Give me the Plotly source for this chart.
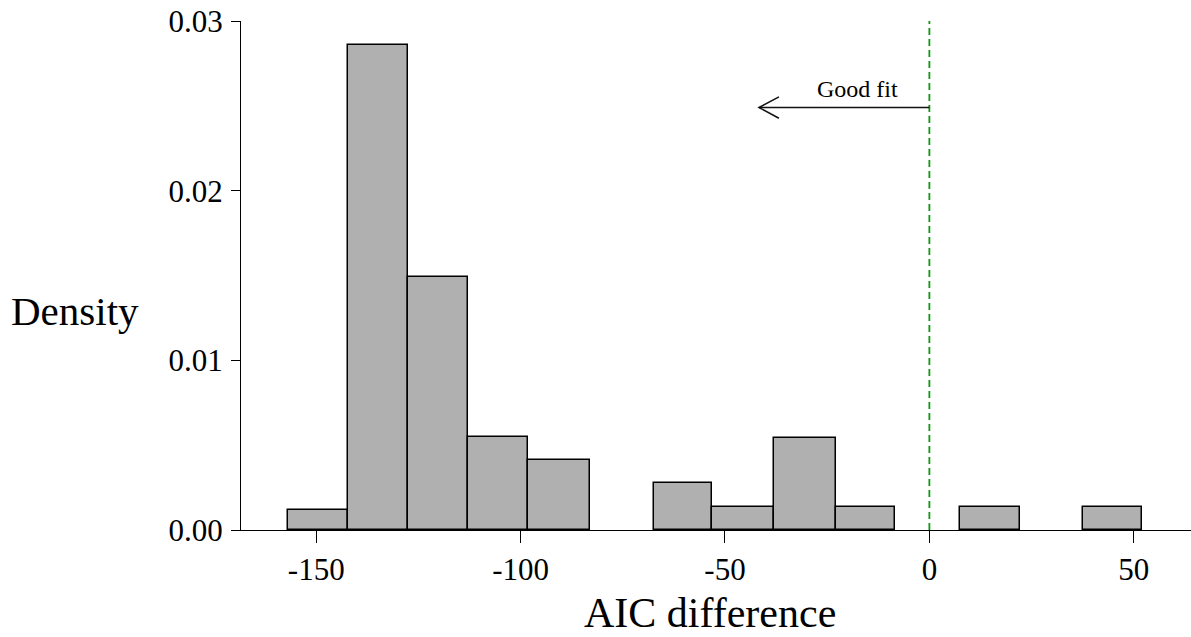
import plotly.graph_objects as go

# Histogram bins (AIC difference) and densities
bin_left = [-157.0, -142.3, -127.6, -112.8, -98.3, -67.4, -53.2, -38.1, -22.8, 7.5, 37.5]
bin_right = [-142.3, -127.6, -112.8, -98.3, -83.1, -53.2, -38.1, -22.8, -8.5, 22.2, 52.0]
density = [0.00115, 0.02858, 0.01494, 0.00546, 0.00412, 0.00279, 0.00137, 0.00542, 0.00133, 0.00133, 0.00133]

x_tick_vals = [-150, -100, -50, 0, 50]
x_tick_text = ["-150", "-100", "-50", "0", "50"]
y_tick_vals = [0.0, 0.01, 0.02, 0.03]
y_tick_text = ["0.00", "0.01", "0.02", "0.03"]

ref_line_x = 0
arrow_tip_x = -41.7
arrow_y = 0.0249
label_text = "Good fit"

centers = [(a + b) / 2 for a, b in zip(bin_left, bin_right)]
widths = [b - a for a, b in zip(bin_left, bin_right)]

FONT = "Liberation Serif"

fig = go.Figure()
fig.add_trace(go.Bar(
    x=centers, y=density, width=widths,
    marker=dict(color="#b0b0b0", line=dict(color="#000000", width=1.5)),
    showlegend=False, hoverinfo="x+y",
))

x_range = [-168.4, 64.0]
y_range = [0, 0.03]

shapes = [
    dict(type="line", xref="x", yref="y", x0=ref_line_x, x1=ref_line_x, y0=0, y1=0.03,
         line=dict(color="#0c9a0c", width=1.8, dash="7px,4px")),
    dict(type="line", xref="x", yref="y", x0=ref_line_x, x1=arrow_tip_x, y0=arrow_y, y1=arrow_y,
         line=dict(color="#111111", width=1.5)),
    dict(type="path", xref="x", yref="y",
         path=f"M {arrow_tip_x + 4.9},{arrow_y + 0.00063} L {arrow_tip_x},{arrow_y} L {arrow_tip_x + 4.9},{arrow_y - 0.00063}",
         line=dict(color="#111111", width=1.5)),
]

annotations = [
    dict(text=label_text, x=-17.7, y=arrow_y, xref="x", yref="y", xanchor="center", yanchor="bottom",
         yshift=4, showarrow=False, font=dict(family=FONT, size=24, color="black")),
    dict(text="Density", x=-0.1747, y=0.43, xref="paper", yref="paper", xanchor="center", yanchor="middle",
         showarrow=False, font=dict(family=FONT, size=41, color="black")),
    dict(text="AIC difference", x=0.4937, y=-0.163, xref="paper", yref="paper", xanchor="center", yanchor="middle",
         showarrow=False, font=dict(family=FONT, size=42, color="black")),
]

fig.update_layout(
    width=1191, height=637,
    margin=dict(l=241, r=0, t=21, b=107),
    paper_bgcolor="white", plot_bgcolor="white",
    bargap=0,
    shapes=shapes,
    annotations=annotations,
    font=dict(family=FONT, color="black"),
    xaxis=dict(range=x_range, tickvals=x_tick_vals, ticktext=x_tick_text, ticks="outside", ticklen=12,
               tickwidth=1.2, tickcolor="black", showline=True, linecolor="black", linewidth=1.2,
               showgrid=False, zeroline=False, tickfont=dict(family=FONT, size=31, color="black")),
    yaxis=dict(range=y_range, tickvals=y_tick_vals, ticktext=y_tick_text, ticks="outside", ticklen=9,
               tickwidth=1.2, tickcolor="black", showline=True, linecolor="black", linewidth=1.2,
               showgrid=False, zeroline=False, tickfont=dict(family=FONT, size=31, color="black"),
               ticklabelstandoff=2),
)

fig.write_html("out.html")
